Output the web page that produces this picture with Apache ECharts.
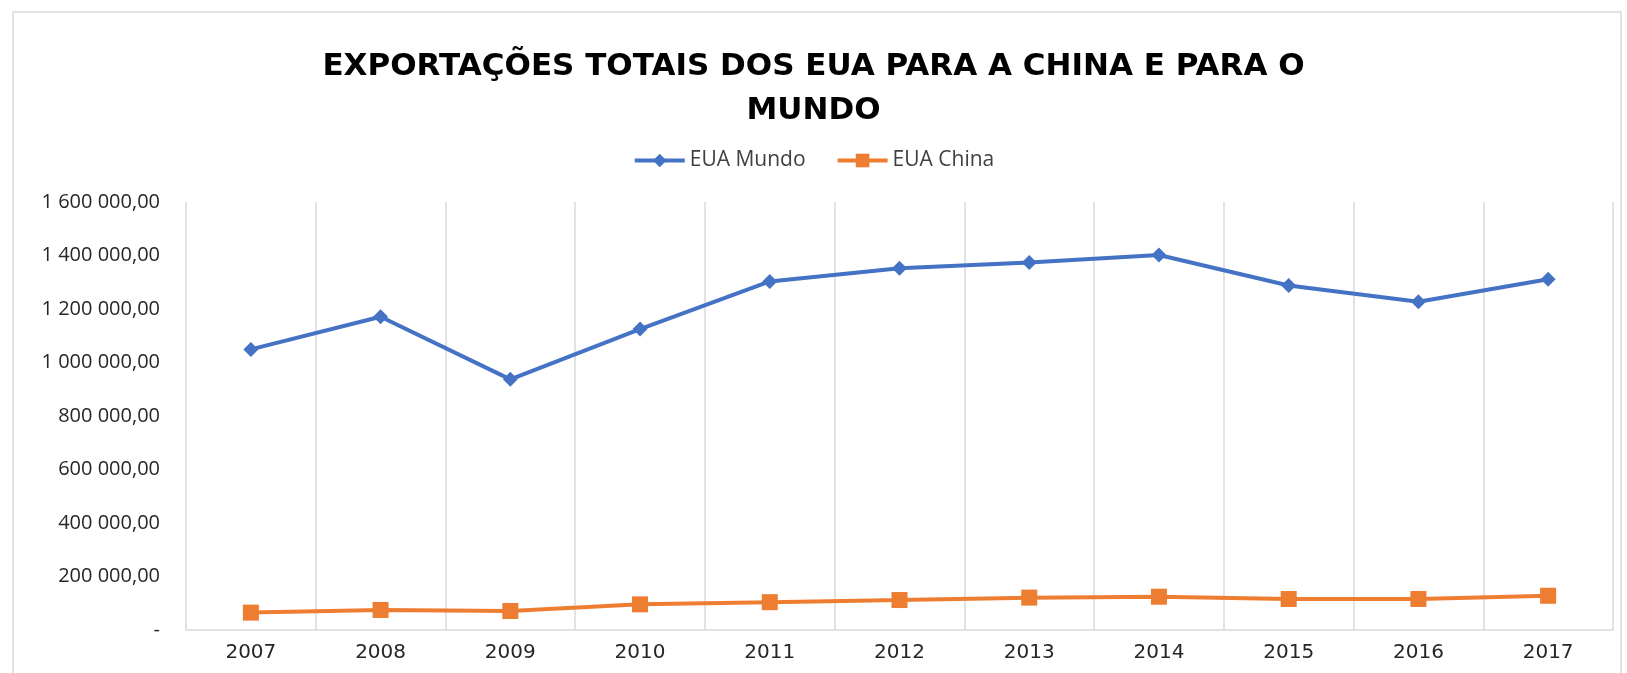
<!DOCTYPE html>
<html><head><meta charset="utf-8">
<script src="https://cdn.jsdelivr.net/npm/echarts@6/dist/echarts.min.js"></script>
<style>html,body{margin:0;padding:0;background:#fff}#c{width:1627px;height:673px}</style>
</head><body><div id="c"></div>
<script>
const years = ['2007','2008','2009','2010','2011','2012','2013','2014','2015','2016','2017'];
const euaMundo = [1049000,1171000,937000,1125000,1303000,1352000,1374000,1402000,1288000,1227000,1311000];
const euaChina = [65000,75000,71000,96000,104000,112000,121000,124500,116000,116000,128000];
const seriesNames = ['EUA Mundo','EUA China'];
const titleText = 'EXPORTAÇÕES TOTAIS DOS EUA PARA A CHINA E PARA O\nMUNDO';

function fmt(v){
  if (v === 0) return '-';
  const s = Math.round(v).toString().replace(/\B(?=(\d{3})+(?!\d))/g,' ');
  return s + ',00';
}
const chart = echarts.init(document.getElementById('c'));
chart.setOption({
  animation:false,
  backgroundColor:'#fff',
  graphic:[{type:'rect',shape:{x:13,y:12,width:1608,height:700},style:{fill:'none',stroke:'#d9d9d9',lineWidth:1.5},silent:true}],
  title:{text:titleText,left:'center',top:40,
    textStyle:{fontFamily:'DejaVu Sans',fontWeight:'bold',fontSize:31,color:'#000',lineHeight:44}},
  legend:{top:145,left:'center',itemWidth:50,itemHeight:17,itemGap:30,
    lineStyle:{width:4},
    textStyle:{fontFamily:'Open Sans',fontSize:21,color:'#404040'},
    data:seriesNames},
  grid:{left:186,right:14,top:202,bottom:43},
  xAxis:{type:'category',data:years,boundaryGap:true,
    axisLine:{lineStyle:{color:'#d9d9d9',width:1.5}},
    axisTick:{show:false},
    splitLine:{show:true,lineStyle:{color:'#d9d9d9',width:1.5}},
    axisLabel:{fontFamily:'DejaVu Sans',fontSize:20,color:'#262626',margin:13}},
  yAxis:{type:'value',min:0,max:1600000,interval:200000,
    axisLine:{show:false},axisTick:{show:false},splitLine:{show:false},
    axisLabel:{fontFamily:'Open Sans',fontSize:20,color:'#262626',margin:26,formatter:fmt}},
  series:[
    {name:seriesNames[0],type:'line',data:euaMundo,symbol:'diamond',symbolSize:15,
     lineStyle:{color:'#4472C4',width:4},itemStyle:{color:'#4472C4'}},
    {name:seriesNames[1],type:'line',data:euaChina,symbol:'rect',symbolSize:16,
     lineStyle:{color:'#ED7D31',width:4},itemStyle:{color:'#ED7D31'}}
  ]
});
</script></body></html>
